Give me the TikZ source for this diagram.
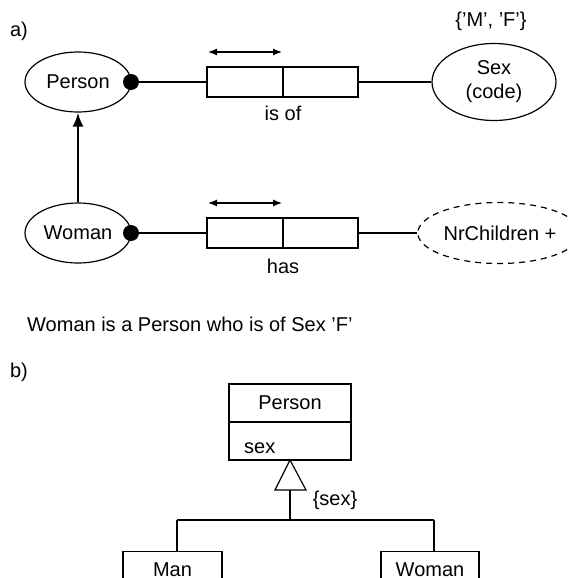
\documentclass[tikz,border=0pt]{standalone}
\usepackage{fontspec}
\setmainfont{Liberation Sans}
\usetikzlibrary{shapes.geometric,arrows.meta}
\begin{document}
\begin{tikzpicture}[x=1pt,y=-1pt,
  every node/.style={font=\fontsize{20}{24}\selectfont},
  thin line/.style={line width=1.2pt},
  ent/.style={draw,ellipse,thin line,minimum width=106pt,minimum height=60pt,inner sep=0pt},
  role/.style={draw,rectangle,thin line,minimum height=30pt,inner sep=0pt},
  dot/.style={circle,fill=black,minimum size=16pt,inner sep=0pt},
  umlbox/.style={draw,rectangle,thin line,inner sep=0pt},
  lbl/.style={inner sep=0pt}
]
\clip (0,0) rectangle (568,578);
\fill[white] (0,0) rectangle (568,578);

% ---------- a) ----------
\node[lbl] (la) at (19,31) {a)};

\node[ent] (person) at (78,82) {Person};
\node[ent] (woman) at (78,233) {Woman};
\node[dot] (d1) at (131,82) {};
\node[dot] (d2) at (131,233) {};

\node[role,minimum width=76pt] (r1a) at (245,82) {};
\node[role,minimum width=75pt] (r1b) at (320.5,82) {};
\node[role,minimum width=76pt] (r2a) at (245,233) {};
\node[role,minimum width=75pt] (r2b) at (320.5,233) {};

\node[draw,ellipse,thin line,minimum width=124pt,minimum height=77pt,inner sep=0pt,align=center] (sex) at (494,82) {Sex\\(code)};
\node[draw,ellipse,thin line,dash pattern=on 6pt off 5pt,minimum width=133pt,minimum height=61pt,inner sep=0pt] (nrc) at (499,233) {\hspace*{2pt}NrChildren +};

\node[lbl] (mf) at (491,21) {\{'M', 'F'\}};
\node[lbl] (isof) at (283,113) {is of};
\node[lbl] (has) at (283,266) {has};

\draw[thin line] (d1.center) -- (r1a.west);
\draw[thin line] (r1b.east) -- (sex.west);
\draw[thin line] (d2.center) -- (r2a.west);
\draw[thin line] (r2b.east) -- (nrc.west);

\coordinate (u1l) at (208,52);
\coordinate (u1r) at (282,52);
\coordinate (u2l) at (208,203);
\coordinate (u2r) at (282,203);
\draw[thin line,{Latex[length=9pt,width=7pt]}-{Latex[length=9pt,width=7pt]}] (u1l) -- (u1r);
\draw[thin line,{Latex[length=9pt,width=7pt]}-{Latex[length=9pt,width=7pt]}] (u2l) -- (u2r);

\draw[line width=2.2pt,-{Latex[length=14pt,width=11pt]}] (woman.north) -- (person.south);

\node[lbl,anchor=west] (sent) at (27,324) {Woman is a Person who is of Sex 'F'};

% ---------- b) ----------
\node[lbl] (lb) at (19,372) {b)};

\node[umlbox,minimum width=122pt,minimum height=38pt] (ptop) at (290,403) {Person};
\node[umlbox,minimum width=122pt,minimum height=38pt] (pbot) at (290,441) {};
\node[lbl,anchor=base west] (sexattr) at (244,453) {sex};

\coordinate (apex) at (290,460);
\coordinate (tl) at (275,490);
\coordinate (tr) at (306,490);
\coordinate (tb) at (290,490);
\draw[thin line,fill=white] (apex) -- (tr) -- (tl) -- cycle;
\coordinate (junc) at (290,520);
\coordinate (jl) at (177,520);
\coordinate (jr) at (434,520);

\node[umlbox,minimum width=99pt,minimum height=60pt,anchor=north] (man) at (172.5,551) {};
\node[umlbox,minimum width=98pt,minimum height=60pt,anchor=north] (wbox) at (430,551) {};
\node[lbl,anchor=base] (mantxt) at (172.5,576) {Man};
\node[lbl,anchor=base] (womtxt) at (430,576) {Woman};

\draw[thin line] (tb) -- (junc) (jl) -- (jr);
\draw[thin line] (jl) -- (jl |- man.north);
\draw[thin line] (jr) -- (jr |- wbox.north);

\node[lbl] (sexc) at (335,500) {\{sex\}};
\end{tikzpicture}
\end{document}
